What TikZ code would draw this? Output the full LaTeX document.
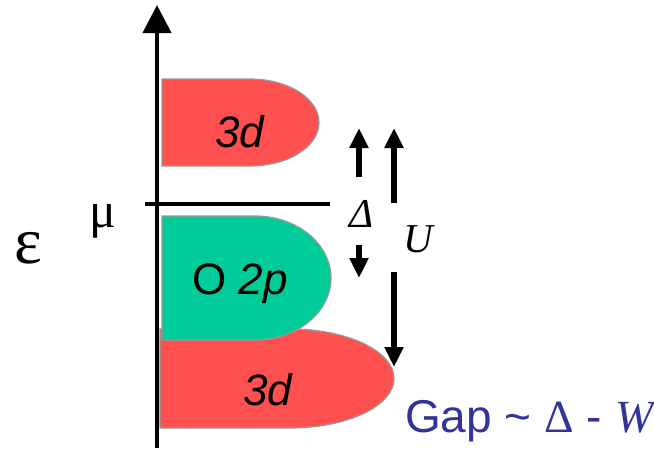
\documentclass[tikz,border=0pt]{standalone}
\usepackage{fontspec}
\setmainfont{Liberation Sans}
\newfontfamily\serifgr{Liberation Serif}
\usetikzlibrary{arrows.meta}
\definecolor{bandred}{HTML}{FF5050}
\definecolor{bandgreen}{HTML}{00CC99}
\definecolor{bandedge}{HTML}{999999}
\definecolor{gapblue}{HTML}{333399}
\tikzset{
  band/.style={draw=bandedge, line width=1.2pt},
  bigarrow/.style={line width=5.5pt, -{Triangle[width=18pt,length=20pt]}},
  lbl/.style={inner sep=0pt, anchor=base},
}
\begin{document}
\begin{tikzpicture}[x=1pt,y=-1pt]
\useasboundingbox (0,0) rectangle (654,450);
% bands
\draw[band, fill=bandred] (162,79) -- (250,79) arc[start angle=90, end angle=-90, x radius=69, y radius=-43.5] -- (162,166) -- cycle;
\draw[band, fill=bandred] (160,329) -- (290,329) arc[start angle=90, end angle=-90, x radius=104, y radius=-49.5] -- (160,428) -- cycle;
\draw[band, fill=bandgreen] (162,216) -- (255,216) arc[start angle=90, end angle=-90, x radius=76, y radius=-62] -- (162,340) -- cycle;
% axis
\coordinate (axb) at (157,448);
\coordinate (axt) at (157,5);
\draw[line width=4pt, -{Triangle[width=28pt,length=28pt]}] (axb) -- (axt);
% mu line
\coordinate (mul) at (145,204);
\coordinate (mur) at (330,204);
\draw[line width=3.5pt] (mul) -- (mur);
% labels
\node[lbl] (d3top) at (240,147) {\fontsize{44}{48}\selectfont\itshape 3d};
\node[lbl] (o2p) at (240,294) {\fontsize{44}{48}\selectfont O \itshape 2p};
\node[lbl] (d3bot) at (268,405) {\fontsize{44}{48}\selectfont\itshape 3d};
\node[lbl] (eps) at (28,263) {\fontsize{66}{70}\selectfont\serifgr ε};
\node[lbl] (mu) at (103,227) {\fontsize{50}{54}\selectfont\serifgr μ};
\node[lbl] (delta) at (362,227) {\fontsize{41}{45}\selectfont\serifgr\itshape Δ};
\node[lbl] (u) at (418,252) {\fontsize{41}{45}\selectfont\serifgr\itshape U};
\node[inner sep=0pt, anchor=base west, text=gapblue] (gap) at (405,432) {\fontsize{46}{50}\selectfont Gap \~{} {\serifgr Δ} - {\serifgr\itshape W}};
% arrows
\coordinate (a1s) at (359,177); \coordinate (a1e) at (359,128);
\coordinate (a2s) at (359,245); \coordinate (a2e) at (359,278);
\coordinate (a3s) at (394,203); \coordinate (a3e) at (394,128);
\coordinate (a4s) at (394,272); \coordinate (a4e) at (394,367);
\draw[bigarrow] (a1s) -- (a1e);
\draw[bigarrow] (a2s) -- (a2e);
\draw[bigarrow] (a3s) -- (a3e);
\draw[bigarrow] (a4s) -- (a4e);
\end{tikzpicture}
\end{document}
